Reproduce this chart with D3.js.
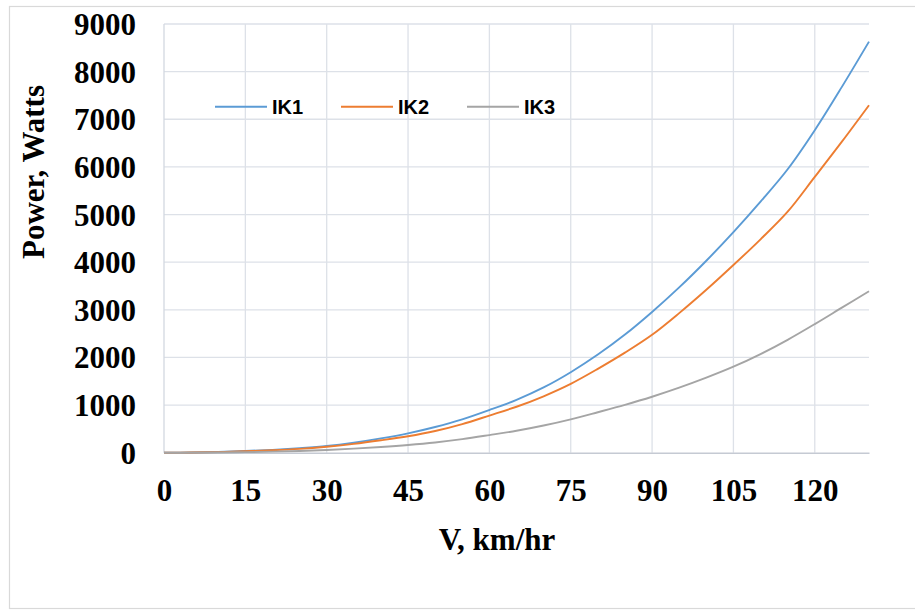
<!DOCTYPE html>
<html>
<head>
<meta charset="utf-8">
<script src="https://cdn.jsdelivr.net/npm/d3@7"></script>
<style>
  body { margin: 0; background: #fff; }
  .tick-label { font-family: "Liberation Serif", "Times New Roman", serif; font-weight: bold; font-size: 31px; fill: #000; }
  .axis-title { font-family: "Liberation Serif", "Times New Roman", serif; font-weight: bold; font-size: 31px; fill: #000; }
  .legend-label { font-family: "Liberation Sans", Arial, sans-serif; font-weight: bold; font-size: 20px; fill: #000; }
</style>
</head>
<body>
<svg id="chart"></svg>
<script>
// speeds, km/hr
const SPEED = [0, 5, 10, 15, 20, 25, 30, 35, 40, 45, 50, 55, 60, 65, 70, 75, 80, 85, 90, 95, 100, 105, 110, 115, 120, 125, 130];

// power, watts
const IK1 = [0, 3, 15, 35, 60, 95, 140, 210, 300, 407, 540, 700, 896, 1110, 1370, 1690, 2060, 2480, 2955, 3470, 4030, 4630, 5270, 5950, 6770, 7680, 8630];
const IK2 = [0, 3, 12, 30, 50, 80, 126, 185, 260, 345, 455, 600, 780, 965, 1185, 1445, 1760, 2100, 2475, 2930, 3420, 3940, 4480, 5060, 5790, 6530, 7295];
const IK3 = [0, 1, 5, 12, 22, 37, 57, 85, 120, 162, 215, 285, 370, 460, 570, 700, 850, 1005, 1175, 1365, 1575, 1805, 2070, 2370, 2700, 3045, 3390];

const SERIES_NAMES = ["IK1", "IK2", "IK3"];
const X_TICKS = [0, 15, 30, 45, 60, 75, 90, 105, 120];
const Y_TICKS = [0, 1000, 2000, 3000, 4000, 5000, 6000, 7000, 8000, 9000];

const COLORS = { IK1: "#5b9bd5", IK2: "#ed7d31", IK3: "#a5a5a5" };

const W = 915, H = 610;
const PLOT = { left: 164, right: 869, top: 24, bottom: 452.7 };

const x = d3.scaleLinear().domain([0, 130]).range([PLOT.left, PLOT.right]);
const y = d3.scaleLinear().domain([0, 9000]).range([PLOT.bottom, PLOT.top]);

const svg = d3.select("#chart").attr("width", W).attr("height", H);

// outer chart border
svg.append("rect")
  .attr("x", 9.5).attr("y", 6.5)
  .attr("width", 930).attr("height", 602)
  .attr("fill", "none").attr("stroke", "#d9d9d9").attr("stroke-width", 1.2);

// gridlines
svg.append("g").selectAll("line")
  .data(Y_TICKS.filter(d => d > 0))
  .enter().append("line")
  .attr("x1", PLOT.left).attr("x2", PLOT.right)
  .attr("y1", d => y(d)).attr("y2", d => y(d))
  .attr("stroke", "#dde1e8").attr("stroke-width", 1.3);

svg.append("g").selectAll("line")
  .data(X_TICKS.filter(d => d > 0))
  .enter().append("line")
  .attr("x1", d => x(d)).attr("x2", d => x(d))
  .attr("y1", PLOT.top).attr("y2", PLOT.bottom)
  .attr("stroke", "#dde1e8").attr("stroke-width", 1.3);

// left axis line
svg.append("line")
  .attr("x1", PLOT.left).attr("x2", PLOT.left)
  .attr("y1", PLOT.top).attr("y2", PLOT.bottom)
  .attr("stroke", "#d3d8e0").attr("stroke-width", 1.3);

// tick labels through d3 axes, no tick marks
const yAxis = svg.append("g")
  .attr("transform", `translate(${PLOT.left},0)`)
  .call(d3.axisLeft(y).tickValues(Y_TICKS).tickFormat(d3.format("d")).tickSize(0).tickPadding(28));
yAxis.select(".domain").remove();
yAxis.selectAll("text").attr("class", "tick-label").attr("font-size", null).attr("font-family", null)
  .attr("dy", "0.34em");

const xAxis = svg.append("g")
  .attr("transform", `translate(0,${PLOT.bottom})`)
  .call(d3.axisBottom(x).tickValues(X_TICKS).tickFormat(d3.format("d")).tickSize(0).tickPadding(0));
xAxis.select(".domain")
  .attr("stroke", "#c5cad3").attr("stroke-width", 1.5);
xAxis.selectAll("text").attr("class", "tick-label").attr("font-size", null).attr("font-family", null)
  .attr("dy", null).attr("y", 48.5);

// series
const seriesData = [IK1, IK2, IK3].map((vals, i) => ({
  name: SERIES_NAMES[i],
  points: SPEED.map((v, j) => ({ v, p: vals[j] }))
}));

const line = d3.line()
  .x(d => x(d.v))
  .y(d => y(d.p))
  .curve(d3.curveCatmullRom.alpha(0.5));

svg.append("g").selectAll("path")
  .data(seriesData)
  .enter().append("path")
  .attr("d", d => line(d.points))
  .attr("fill", "none")
  .attr("stroke", d => COLORS[d.name])
  .attr("stroke-width", 1.9);

// legend
const legendX = [215, 341, 467];
const legendY = 106.7;
SERIES_NAMES.forEach((name, i) => {
  svg.append("line")
    .attr("x1", legendX[i]).attr("x2", legendX[i] + 52)
    .attr("y1", legendY).attr("y2", legendY)
    .attr("stroke", COLORS[name]).attr("stroke-width", 1.9);
  svg.append("text")
    .attr("class", "legend-label")
    .attr("x", legendX[i] + 57)
    .attr("y", legendY + 7)
    .text(name);
});

// axis titles
svg.append("text")
  .attr("class", "axis-title")
  .attr("x", 497).attr("y", 550)
  .attr("text-anchor", "middle")
  .text("V, km/hr");

svg.append("text")
  .attr("class", "axis-title")
  .attr("transform", "translate(44,172) rotate(-90)")
  .attr("text-anchor", "middle")
  .text("Power, Watts");
</script>
</body>
</html>
